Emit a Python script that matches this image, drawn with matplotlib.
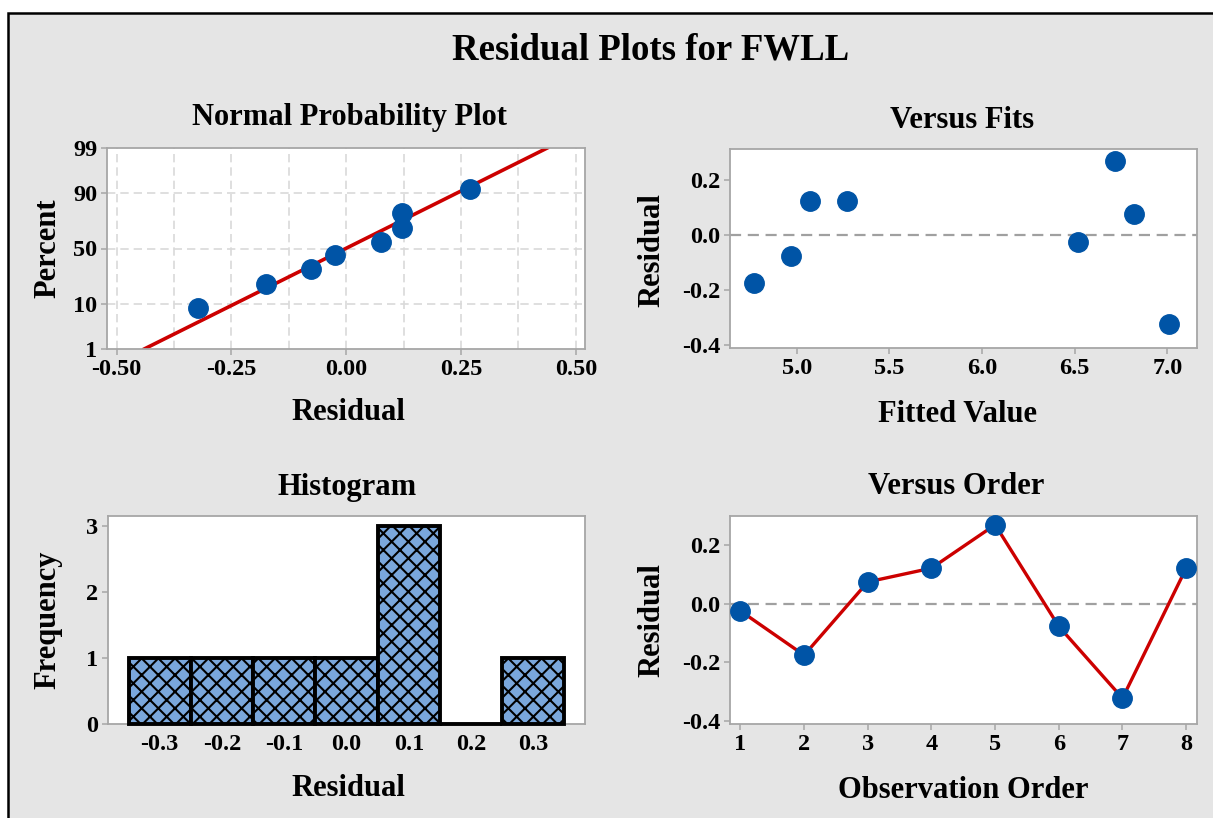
import matplotlib
matplotlib.use("Agg")
import matplotlib.pyplot as plt
from matplotlib.patches import Rectangle
from statistics import NormalDist
import numpy as np

# ---------------- data ----------------
observation = [1, 2, 3, 4, 5, 6, 7, 8]
residuals = [-0.024, -0.175, 0.075, 0.122, 0.270, -0.077, -0.322, 0.122]
fitted = [6.52, 4.77, 6.82, 5.07, 6.72, 4.97, 7.01, 5.27]
hist_centers = [-0.3, -0.2, -0.1, 0.0, 0.1, 0.2, 0.3]
hist_counts = [1, 1, 1, 1, 3, 0, 1]
pct_ticks = [1, 10, 50, 90, 99]
npp_xticks = [-0.50, -0.25, 0.00, 0.25, 0.50]
fits_xticks = [5.0, 5.5, 6.0, 6.5, 7.0]
resid_yticks = [-0.4, -0.2, 0.0, 0.2]

# ---------------- style ----------------
plt.rcParams['font.family'] = ['Liberation Serif', 'DejaVu Serif']
plt.rcParams['font.weight'] = 'bold'
plt.rcParams['hatch.linewidth'] = 1.5

W, H = 1213, 818
fig = plt.figure(figsize=(W / 100, H / 100), dpi=100, facecolor='white')

BG = '#e5e5e5'
BLUE = '#0054A6'
RED = '#CC0000'
FRAME = '#a6a6a6'
TICKFS = 17.5
LABFS = 22
MS = 14

# background panel with border (top/left visible)
fig.patches.append(Rectangle((8 / W, -0.2), 1.3, 1 - 13 / H + 0.2,
                             transform=fig.transFigure, facecolor=BG,
                             edgecolor='black', linewidth=1.8, zorder=-10))


def rect(x0, x1, y0, y1):
    return [x0 / W, 1 - y1 / H, (x1 - x0) / W, (y1 - y0) / H]


def style(ax):
    ax.set_facecolor('white')
    for s in ax.spines.values():
        s.set_color(FRAME)
        s.set_linewidth(1.3)
    ax.tick_params(axis='both', which='major', direction='out', length=4,
                   width=1.1, color=FRAME, labelsize=TICKFS, pad=3.0)
    for lab in ax.get_xticklabels() + ax.get_yticklabels():
        lab.set_fontweight('bold')


def ftext(x, y, s, size, rot=0):
    fig.text(x / W, 1 - y / H, s, ha='center', va='center', fontsize=size,
             fontweight='bold', rotation=rot)


nd = NormalDist()

# ---------------- Normal probability plot ----------------
ax1 = fig.add_axes(rect(107, 585, 148, 349))
n = len(residuals)
srt = sorted(residuals)
probs = [(i + 1 - 0.3) / (n + 0.4) for i in range(n)]
zs = [nd.inv_cdf(p) for p in probs]
mu = float(np.mean(residuals))
sd = float(np.std(residuals, ddof=1))
zline = np.linspace(nd.inv_cdf(0.01), nd.inv_cdf(0.99), 50)
ax1.set_xlim(-0.521, 0.52)
ax1.set_ylim(nd.inv_cdf(0.01), nd.inv_cdf(0.99))
for gx in np.arange(-0.5, 0.5001, 0.125):
    ax1.axvline(gx, color='#d9d9d9', lw=1.2, ls=(0, (5, 3)), zorder=0)
for p in [10, 50, 90]:
    ax1.axhline(nd.inv_cdf(p / 100), color='#d9d9d9', lw=1.2, ls=(0, (5, 3)), zorder=0)
ax1.plot(mu + sd * zline, zline, color=RED, lw=2.6, zorder=2)
ax1.plot(srt, zs, 'o', color=BLUE, ms=MS, mec=BLUE, zorder=3)
ax1.set_xticks(npp_xticks)
ax1.set_xticklabels([f"{v:.2f}" for v in npp_xticks])
ax1.set_yticks([nd.inv_cdf(p / 100) for p in pct_ticks])
ax1.set_yticklabels([str(p) for p in pct_ticks])
style(ax1)

# ---------------- Versus Fits ----------------
ax2 = fig.add_axes(rect(730, 1197, 149, 348))
ax2.set_xlim(4.639, 7.16)
ax2.set_ylim(-0.411, 0.313)
ax2.axhline(0, color='#a0a0a0', lw=1.6, ls=(0, (5, 3)), zorder=1)
ax2.plot(fitted, residuals, 'o', color=BLUE, ms=MS, mec=BLUE, zorder=3)
ax2.set_xticks(fits_xticks)
ax2.set_xticklabels([f"{v:.1f}" for v in fits_xticks])
ax2.set_yticks(resid_yticks)
ax2.set_yticklabels([f"{v:.1f}" for v in resid_yticks])
style(ax2)

# ---------------- Histogram ----------------
ax3 = fig.add_axes(rect(108, 585, 516, 724))
ax3.set_xlim(-0.383, 0.383)
ax3.set_ylim(0, 3.15)
ax3.bar(hist_centers, hist_counts, width=0.1, color='#7AA7DC',
        edgecolor='black', linewidth=2.8, hatch='xx', zorder=3, clip_on=False)
ax3.set_xticks(hist_centers)
ax3.set_xticklabels([f"{v:.1f}" for v in hist_centers])
ax3.set_yticks([0, 1, 2, 3])
style(ax3)
ax3.tick_params(axis='x', length=0, pad=7)

# ---------------- Versus Order ----------------
ax4 = fig.add_axes(rect(730, 1197, 516, 724))
ax4.set_xlim(0.836, 8.17)
ax4.set_ylim(-0.41, 0.30)
ax4.axhline(0, color='#a0a0a0', lw=1.6, ls=(0, (5, 3)), zorder=1)
ax4.plot(observation, residuals, '-', color=RED, lw=2.4, zorder=2)
ax4.plot(observation, residuals, 'o', color=BLUE, ms=MS, mec=BLUE, zorder=3,
         clip_on=False)
ax4.set_xticks(observation)
ax4.set_yticks(resid_yticks)
ax4.set_yticklabels([f"{v:.1f}" for v in resid_yticks])
style(ax4)

# ---------------- texts ----------------
ftext(651, 50, "Residual Plots for FWLL", 26.5)
ftext(349, 117, "Normal Probability Plot", LABFS)
ftext(962, 121, "Versus Fits", LABFS)
ftext(347, 487, "Histogram", LABFS)
ftext(956, 486, "Versus Order", LABFS)
ftext(348, 413, "Residual", LABFS)
ftext(958, 415, "Fitted Value", LABFS)
ftext(348, 789, "Residual", LABFS)
ftext(963, 790, "Observation Order", LABFS)
ftext(48, 248, "Percent", LABFS, 90)
ftext(652, 250, "Residual", LABFS, 90)
ftext(48, 620, "Frequency", LABFS, 90)
ftext(652, 620, "Residual", LABFS, 90)

fig.savefig("out.png", dpi=100, facecolor='white')
